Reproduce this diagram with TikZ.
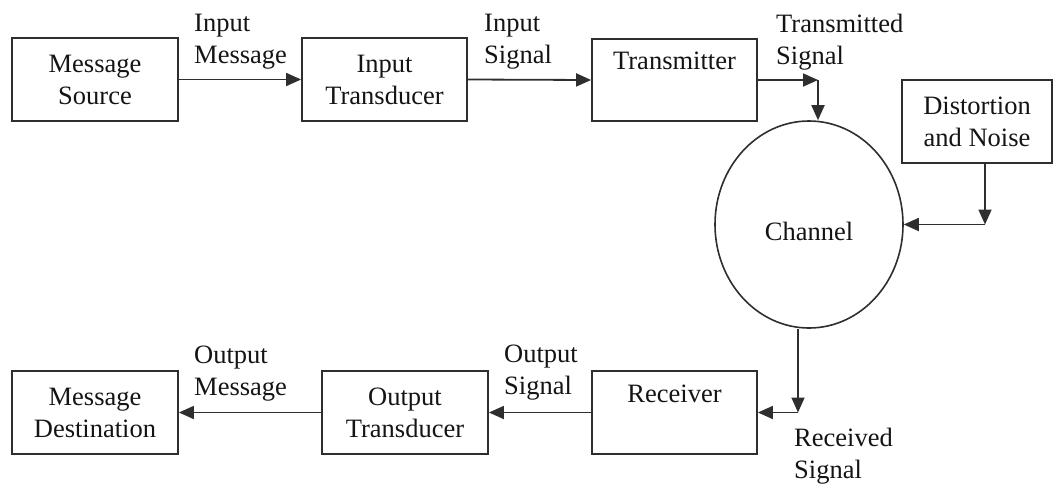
\documentclass[tikz,border=0pt]{standalone}
\usepackage{fontspec}
\setmainfont{Liberation Serif}
\usetikzlibrary{arrows.meta,shapes.geometric,calc}
\definecolor{ln}{HTML}{2E2E2E}
\definecolor{tx}{HTML}{141414}
\begin{document}
\begin{tikzpicture}[x=1pt,y=-1pt,
  every node/.style={font=\fontsize{26.5}{32}\selectfont, text=tx},
  blk/.style={draw=ln, line width=1.8pt, rectangle, align=center, inner sep=0pt},
  lbl/.style={anchor=west, align=left, inner sep=0pt},
  arr/.style={draw=ln, line width=1.8pt, -{Triangle[length=15pt,width=13pt]}}]
\useasboundingbox (0,0) rectangle (1055,485);
% blocks
\node[blk, minimum width=166pt, minimum height=83pt] (ms) at (95,79.5) {Message\\Source};
\node[blk, minimum width=165pt, minimum height=83pt] (it) at (384.5,79.5) {Input\\Transducer};
\node[blk, minimum width=165pt, minimum height=82pt] (tr) at (674.5,80) {Transmitter\\\phantom{g}};
\node[blk, minimum width=150pt, minimum height=83pt] (dn) at (977,121.5) {Distortion\\and Noise};
\node[draw=ln, line width=1.6pt, ellipse, minimum width=188pt, minimum height=207pt, inner sep=0pt] (ch) at (809,224.5) {};
\node at (809,231) {Channel};
\node[blk, minimum width=166pt, minimum height=83pt] (md) at (95,412.5) {Message\\Destination};
\node[blk, minimum width=166pt, minimum height=83pt] (ot) at (405,412.5) {Output\\Transducer};
\node[blk, minimum width=165pt, minimum height=83pt] (rx) at (674.5,412.5) {Receiver\\\phantom{g}};
% corner points
\coordinate (c1) at (818,80);
\coordinate (c2) at (985,224.5);
\coordinate (c3) at (798,412.5);
% connectors
\draw[arr] (ms.east) -- (it.west);
\draw[arr] (it.east) -- (tr.west);
\draw[arr] (tr.east) -- (c1);
\draw[arr] (c1) -- (c1 |- ch.north);
\draw[arr] (c2 |- dn.south) -- (c2);
\draw[arr] (c2) -- (ch.east);
\draw[arr] (c3 |- ch.south) -- (c3);
\draw[arr] (c3) -- (rx.east);
\draw[arr] (rx.west) -- (ot.east);
\draw[arr] (ot.west) -- (md.east);
% labels
\node[lbl] (l1) at (194,42) {Input\\Message};
\node[lbl] (l2) at (484,42) {Input\\Signal};
\node[lbl] (l3) at (776,42) {Transmitted\\Signal};
\node[lbl] (l4) at (194,374) {Output\\Message};
\node[lbl] (l5) at (504,373) {Output\\Signal};
\node[lbl] (l6) at (794,456) {Received\\Signal};
\end{tikzpicture}
\end{document}
